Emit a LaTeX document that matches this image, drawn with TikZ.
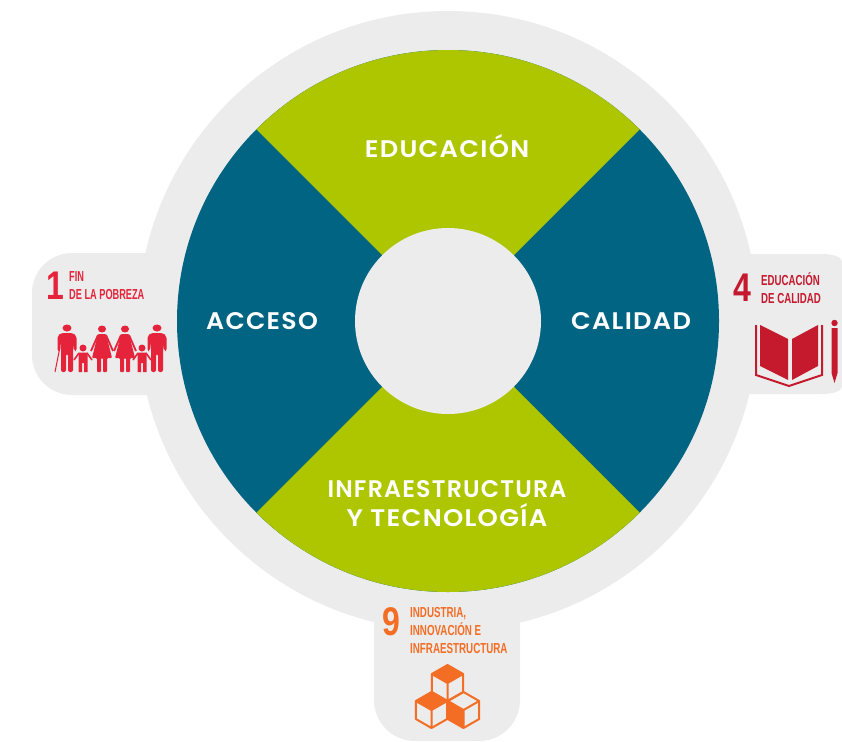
\documentclass[tikz,border=0pt]{standalone}
\usepackage{fontspec}
\setmainfont{Poppins}[BoldFont={Poppins SemiBold},LetterSpace=5]
\newfontfamily\sdgfont{Liberation Sans Bold}
\definecolor{ggrey}{HTML}{ECECEC}
\definecolor{gblue}{HTML}{006482}
\definecolor{ggreen}{HTML}{AEC600}
\definecolor{gred}{HTML}{E5243B}
\definecolor{gcrim}{HTML}{C5192D}
\definecolor{gorange}{HTML}{F36D25}
\tikzset{
  x=1pt,y=-1pt,
  mainlabel/.style={font=\fontsize{24}{29}\selectfont\bfseries,text=white,align=center,inner sep=0pt},
  sdgnum/.style={font=\sdgfont\fontsize{40}{40}\selectfont,inner sep=0pt,anchor=center},
  sdgtxt/.style={font=\sdgfont\fontsize{14.5}{18.3}\selectfont,inner sep=0pt,anchor=north west,align=left},
}
\newcommand{\sdgt}[2][0.635]{\scalebox{#1}[1]{#2}}
\newcommand{\sdgn}[1]{\scalebox{0.8}[1]{#1}}
\newcommand{\mainx}[2]{\scalebox{#1}[1]{#2}}
% cube: centre, radius, top fill, left fill
\newcommand{\isocube}[5]{%
  \path[fill=#3] (#1,#2-#5) -- (#1+0.87*#5,#2-0.5*#5) -- (#1,#2) -- (#1-0.87*#5,#2-0.5*#5) -- cycle;
  \path[fill=#4] (#1-0.87*#5,#2-0.5*#5) -- (#1,#2) -- (#1,#2+#5) -- (#1-0.87*#5,#2+0.5*#5) -- cycle;
  \draw[gorange,line width=2pt,line join=round] (#1,#2-#5) -- (#1+0.87*#5,#2-0.5*#5) -- (#1+0.87*#5,#2+0.5*#5) -- (#1,#2+#5) -- (#1-0.87*#5,#2+0.5*#5) -- (#1-0.87*#5,#2-0.5*#5) -- cycle
    (#1-0.87*#5,#2-0.5*#5) -- (#1,#2) -- (#1+0.87*#5,#2-0.5*#5) (#1,#2) -- (#1,#2+#5);
}
\newcommand{\manicon}[2]{%
  \fill[gred] (#1,#2) ellipse (4.5 and 3.5);
  \fill[gred,rounded corners=2pt] (#1-9.5,#2+23) -- (#1-9.5,#2+8) -- (#1-6,#2+5) -- (#1+6,#2+5) -- (#1+9.5,#2+8) -- (#1+9.5,#2+23) -- (#1+7,#2+23) -- (#1+6,#2+14) -- (#1+6,#2+44) -- (#1+1,#2+44) -- (#1+1,#2+26) -- (#1-1,#2+26) -- (#1-1,#2+44) -- (#1-6,#2+44) -- (#1-6,#2+14) -- (#1-7,#2+23) -- cycle;
}
\newcommand{\womanicon}[2]{%
  \fill[gred] (#1,#2) ellipse (4 and 3.5);
  \fill[gred,rounded corners=1pt] (#1-4,#2+5) -- (#1+4,#2+5) -- (#1+10,#2+29) -- (#1+5,#2+29) -- (#1+5,#2+43) -- (#1+1,#2+43) -- (#1+1,#2+29) -- (#1-1,#2+29) -- (#1-1,#2+43) -- (#1-5,#2+43) -- (#1-5,#2+29) -- (#1-10,#2+29) -- cycle;
  \draw[gred,line width=1.8pt] (#1-4,#2+6) -- (#1-11,#2+22) (#1+4,#2+6) -- (#1+11,#2+22);
}
\newcommand{\childicon}[2]{%
  \fill[gred] (#1,#2) circle (3.5);
  \fill[gred] (#1-4.5,#2+4.5) -- (#1+4.5,#2+4.5) -- (#1+4.5,#2+24) -- (#1+1,#2+24) -- (#1+1,#2+15) -- (#1-1,#2+15) -- (#1-1,#2+24) -- (#1-4.5,#2+24) -- cycle;
  \draw[gred,line width=1.6pt] (#1-4,#2+5) -- (#1-9,#2+12) (#1+4,#2+5) -- (#1+9,#2+12);
}
\begin{document}
\begin{tikzpicture}
\useasboundingbox (0,0) rectangle (842,741);
\fill[white] (0,0) rectangle (842,741);
% grey tabs
\fill[ggrey] (160,253) -- (72,253) arc[start angle=270,end angle=180,radius=40] -- (32,355) arc[start angle=180,end angle=90,radius=40] -- (160,395) -- cycle;
\fill[ggrey] (740,254) -- (822,254) .. controls (836,254) and (842,258) .. (842,262) -- (842,386) .. controls (842,390) and (836,394) .. (822,394) -- (740,394) -- cycle;
\fill[ggrey] (374,610) -- (520,610) -- (520,700) arc[start angle=0,end angle=90,radius=41] -- (415,741) arc[start angle=90,end angle=180,radius=41] -- cycle;
% main discs
\fill[ggrey] (448,321) circle (310);
\fill[gblue] (448,321) circle (271);
\fill[ggreen] (448,321) -- (256.4,129.4) arc[start angle=225,end angle=315,radius=271] -- cycle;
\fill[ggreen] (448,321) -- (256.4,512.6) arc[start angle=135,end angle=45,radius=271] -- cycle;
\fill[ggrey] (448,321) circle (93);
% main labels
\node[mainlabel] (edu) at (447,146) {\mainx{1.07}{EDUCACIÓN}};
\node[mainlabel] (acc) at (262,321) {\mainx{1.05}{ACCESO}};
\node[mainlabel] (cal) at (631,321) {\mainx{1.07}{CALIDAD}};
\node[mainlabel] (inf) at (447,504) {\mainx{0.99}{INFRAESTRUCTURA}\\\mainx{1.075}{Y TECNOLOGÍA}};
% SDG 1
\node[sdgnum,text=gred] (n1) at (55,286) {\sdgn{1}};
\node[sdgtxt,text=gred] (t1) at (69,271) {\sdgt{FIN}\\\sdgt{DE LA POBREZA}};
\manicon{67}{328}
\childicon{83}{348}
\womanicon{102}{329}
\womanicon{125}{329}
\childicon{142}{348}
\manicon{157}{328}
\draw[gred,line width=1pt] (60,347) -- (55,372);
% SDG 4
\node[sdgnum,text=gcrim] (n4) at (742,288) {\sdgn{4}};
\node[sdgtxt,text=gcrim] (t4) at (761,272) {\sdgt[0.667]{EDUCACIÓN}\\\sdgt[0.667]{DE CALIDAD}};
\fill[gcrim] (760,325) -- (788,339) -- (788,380) -- (760,366) -- cycle;
\fill[gcrim] (792,339) -- (818,325) -- (818,366) -- (792,380) -- cycle;
\draw[gcrim,line width=2pt] (756,325) -- (756,375) -- (789,386) -- (822,375) -- (822,325);
\fill[gcrim] (834.5,323) circle (3.2);
\fill[gcrim] (831.5,328) -- (837.5,328) -- (837.5,373) -- (834.5,383) -- (831.5,373) -- cycle;
% SDG 9
\node[sdgnum,text=gorange] (n9) at (391,622) {\sdgn{9}};
\node[sdgtxt,text=gorange] (t9) at (410,607) {\sdgt[0.675]{INDUSTRIA,}\\\sdgt[0.675]{INNOVACIÓN E}\\\sdgt[0.675]{INFRAESTRUCTURA}};
\isocube{447.5}{683}{gorange}{none}{18}
\isocube{431.5}{710}{gorange}{none}{18}
\isocube{463.5}{710}{none}{gorange}{18}
\end{tikzpicture}
\end{document}
